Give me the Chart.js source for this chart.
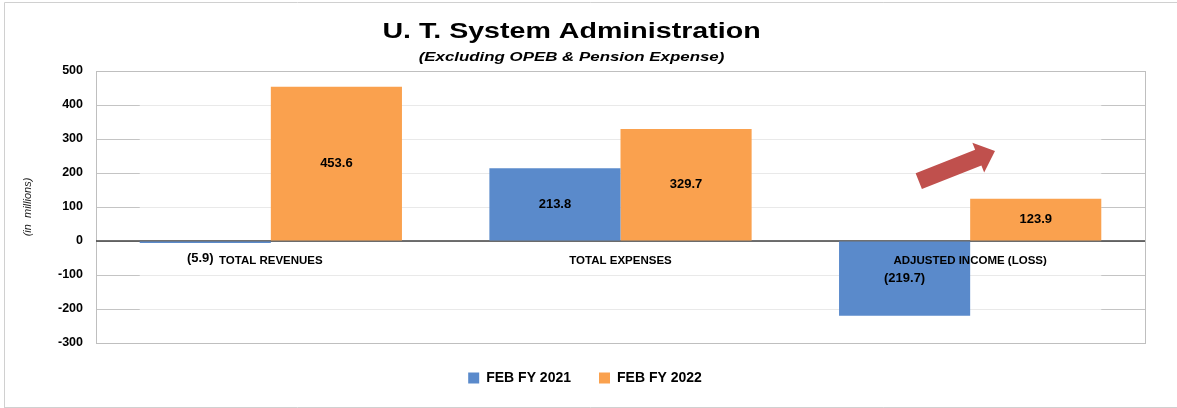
<!DOCTYPE html>
<html>
<head>
<meta charset="utf-8">
<script src="https://cdn.jsdelivr.net/npm/chart.js@4/dist/chart.umd.min.js"></script>
<style>
  html, body { margin: 0; padding: 0; background: #fff; }
  #wrap { width: 1177px; height: 408px; position: relative; }
</style>
</head>
<body>
<div id="wrap"><canvas id="c"></canvas></div>
<script>
// ---- Data ----
const categories = ['TOTAL REVENUES', 'TOTAL EXPENSES', 'ADJUSTED INCOME (LOSS)'];
const seriesNames = ['FEB FY 2021', 'FEB FY 2022'];
const fy2021 = [-5.9, 213.8, -219.7];
const fy2022 = [453.6, 329.7, 123.9];
const yMin = -300;
const yMax = 500;
const yStep = 100;
const titleText = 'U. T. System Administration';
const subtitleText = '(Excluding OPEB & Pension Expense)';
const yAxisTitle = '(in  millions)';
// arrow annotation anchors in data space: [category index, value]
const arrowTail = [1.853, 176];
const arrowTip = [2.071, 265];

const FONT = "'Liberation Sans', Arial, sans-serif";
const BLUE = '#5A8ACB';
const ORANGE = '#FAA14E';

function fmt(v) {
  return v < 0 ? '(' + Math.abs(v).toFixed(1) + ')' : v.toFixed(1);
}

const framePlugin = {
  id: 'frame',
  beforeDraw(chart) {
    const ctx = chart.ctx;
    ctx.save();
    ctx.fillStyle = '#fff';
    ctx.fillRect(0, 0, chart.width, chart.height);
    ctx.strokeStyle = '#D0D0D0';
    ctx.lineWidth = 1;
    ctx.beginPath();
    ctx.moveTo(4.5, chart.height);
    ctx.lineTo(4.5, 2.5);
    ctx.lineTo(chart.width, 2.5);
    ctx.moveTo(4.5, chart.height - 0.5);
    ctx.lineTo(chart.width, chart.height - 0.5);
    ctx.stroke();
    // stretched title & subtitle
    const cx = (chart.width) / 2 - 17;
    ctx.fillStyle = '#000';
    ctx.textAlign = 'center';
    ctx.textBaseline = 'alphabetic';
    ctx.save();
    ctx.translate(cx, 37.5);
    ctx.scale(1.3, 1);
    ctx.font = 'bold 22px ' + FONT;
    ctx.fillText(titleText, 0, 0);
    ctx.restore();
    ctx.save();
    ctx.translate(cx, 60.5);
    ctx.scale(1.25, 1);
    ctx.font = 'italic bold 13.5px ' + FONT;
    ctx.fillText(subtitleText, 0, 0);
    ctx.restore();
    ctx.restore();
  },
  beforeDatasetsDraw(chart) {
    const ctx = chart.ctx;
    const a = chart.chartArea;
    const ys = chart.scales.y;
    const m0 = chart.getDatasetMeta(0).data;
    const m1 = chart.getDatasetMeta(1).data;
    const all = fy2021.concat(fy2022);
    const left = m0[0].x - m0[0].width / 2;
    const right = m1[m1.length - 1].x + m1[m1.length - 1].width / 2;
    const top = ys.getPixelForValue(Math.max(...all));
    const bottom = ys.getPixelForValue(Math.min(...all));
    ctx.save();
    ctx.fillStyle = 'rgba(255,255,255,0.62)';
    ctx.fillRect(left, top, right - left, bottom - top);
    // plot border
    ctx.strokeStyle = '#BFBFBF';
    ctx.lineWidth = 1;
    ctx.strokeRect(Math.round(a.left) + 0.5, Math.round(a.top) + 0.5,
      Math.round(a.right - a.left), Math.round(a.bottom - a.top));
    // zero line
    const z = ys.getPixelForValue(0);
    ctx.strokeStyle = '#404040';
    ctx.lineWidth = 1.5;
    ctx.beginPath();
    ctx.moveTo(a.left, z);
    ctx.lineTo(a.right, z);
    ctx.stroke();
    ctx.restore();
  },
  afterDatasetsDraw(chart) {
    const ctx = chart.ctx;
    ctx.save();
    ctx.font = 'bold 13px ' + FONT;
    ctx.fillStyle = '#000';
    ctx.textAlign = 'center';
    ctx.textBaseline = 'middle';
    chart.data.datasets.forEach((ds, di) => {
      chart.getDatasetMeta(di).data.forEach((bar, i) => {
        const v = ds.data[i];
        const h = Math.abs(bar.base - bar.y);
        let x = bar.x, y;
        if (h >= 20) y = (bar.y + bar.base) / 2;
        else { y = v < 0 ? bar.y + 15 : bar.y - 15; x = bar.x - 5; }
        ctx.fillText(fmt(v), x, y);
      });
    });
    // arrow annotation
    const xs = chart.scales.x, ys = chart.scales.y;
    const x0 = xs.getPixelForValue(arrowTail[0]), y0 = ys.getPixelForValue(arrowTail[1]);
    const x1 = xs.getPixelForValue(arrowTip[0]), y1 = ys.getPixelForValue(arrowTip[1]);
    const ang = Math.atan2(y1 - y0, x1 - x0);
    const len = Math.hypot(x1 - x0, y1 - y0);
    const sw = 8.5, hw = 16, hl = 18;
    ctx.translate(x0, y0);
    ctx.rotate(ang);
    ctx.fillStyle = '#C0504D';
    ctx.beginPath();
    ctx.moveTo(0, -sw);
    ctx.lineTo(len - hl, -sw);
    ctx.lineTo(len - hl, -hw);
    ctx.lineTo(len, 0);
    ctx.lineTo(len - hl, hw);
    ctx.lineTo(len - hl, sw);
    ctx.lineTo(0, sw);
    ctx.closePath();
    ctx.fill();
    ctx.restore();
  }
};

new Chart(document.getElementById('c'), {
  type: 'bar',
  data: {
    labels: categories,
    datasets: [
      { label: seriesNames[0], data: fy2021, backgroundColor: BLUE, borderWidth: 0 },
      { label: seriesNames[1], data: fy2022, backgroundColor: ORANGE, borderWidth: 0 }
    ]
  },
  options: {
    responsive: true,
    maintainAspectRatio: false,
    animation: false,
    datasets: { bar: { categoryPercentage: 0.75, barPercentage: 1.0 } },
    layout: { padding: { top: 71, right: 32, bottom: 13, left: 25 } },
    plugins: {
      tooltip: { enabled: false },
      legend: {
        position: 'bottom',
        labels: {
          boxWidth: 11, boxHeight: 11, padding: 28,
          color: '#000',
          font: { family: FONT, size: 14, weight: 'bold' }
        }
      }
    },
    scales: {
      x: {
        type: 'category',
        position: { y: 0 },
        grid: { display: false, drawTicks: false },
        border: { display: false },
        ticks: {
          z: 1,
          color: '#000', padding: 13,
          font: { family: FONT, size: 11.5, weight: 'bold' },
          maxRotation: 0, autoSkip: false
        }
      },
      y: {
        min: yMin, max: yMax,
        afterFit(s) { s.width = 71; },
        grid: { color: '#C4C4C4', drawTicks: false, lineWidth: 1 },
        border: { display: true, color: '#BFBFBF' },
        ticks: {
          stepSize: yStep, color: '#000', padding: 13,
          font: { family: FONT, size: 12.5, weight: 'bold' }
        },
        title: {
          display: true, text: yAxisTitle, color: '#222',
          font: { family: FONT, size: 11, style: 'italic' },
          padding: { top: -4, bottom: 0 }
        }
      }
    }
  },
  plugins: [framePlugin]
});
</script>
</body>
</html>
